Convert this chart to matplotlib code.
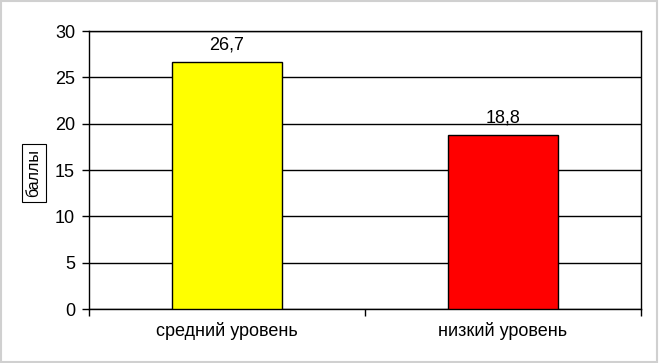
import matplotlib
matplotlib.use("Agg")
from matplotlib import pyplot as plt

categories = ["средний уровень", "низкий уровень"]
values = [26.7, 18.8]
value_labels = ["26,7", "18,8"]
bar_colors = ["#FFFF00", "#FF0000"]
y_ticks = [0, 5, 10, 15, 20, 25, 30]

plt.rcParams['font.family'] = ['Liberation Sans', 'DejaVu Sans']

fig = plt.figure(figsize=(6.59, 3.63), dpi=100)
ax = fig.add_axes([89 / 659, 1 - 309 / 363, 552 / 659, 278 / 363])

x = list(range(len(categories)))
ax.bar(x, values, width=0.4, color=bar_colors, edgecolor="black", linewidth=1, zorder=3)

for xi, v, lab in zip(x, values, value_labels):
    ax.annotate(lab, (xi, v), xytext=(0, 6), textcoords="offset points",
                ha="center", va="bottom", fontsize=13, zorder=4)

ax.set_xlim(-0.5, len(categories) - 0.5)
ax.set_ylim(0, 30)
ax.set_yticks(y_ticks)
ax.tick_params(axis="y", labelsize=13, length=5, width=1, direction="out", pad=5)

ax.set_xticks(x)
ax.set_xticklabels(categories, fontsize=13)
ax.tick_params(axis="x", length=0, pad=9)
ax.set_xticks([-0.5, 0.5, 1.5], minor=True)
ax.tick_params(axis="x", which="minor", length=5, width=1, direction="out")

ax.yaxis.grid(True, color="black", linewidth=1, zorder=0)
ax.set_axisbelow(True)
for s in ax.spines.values():
    s.set_color("black")
    s.set_linewidth(1)

fig.text(34 / 659, 1 - 173 / 363, "баллы", rotation=90, ha="center", va="center", fontsize=11.5,
         bbox=dict(boxstyle="square,pad=0.3", facecolor="white", edgecolor="black", linewidth=0.8))

# light frame around the whole picture
fig.patches.append(plt.Rectangle((0.002, 0.004), 0.995, 0.993, transform=fig.transFigure,
                                 fill=False, edgecolor="#d0d0d0", linewidth=1.5))

plt.savefig("out.png", dpi=100)
